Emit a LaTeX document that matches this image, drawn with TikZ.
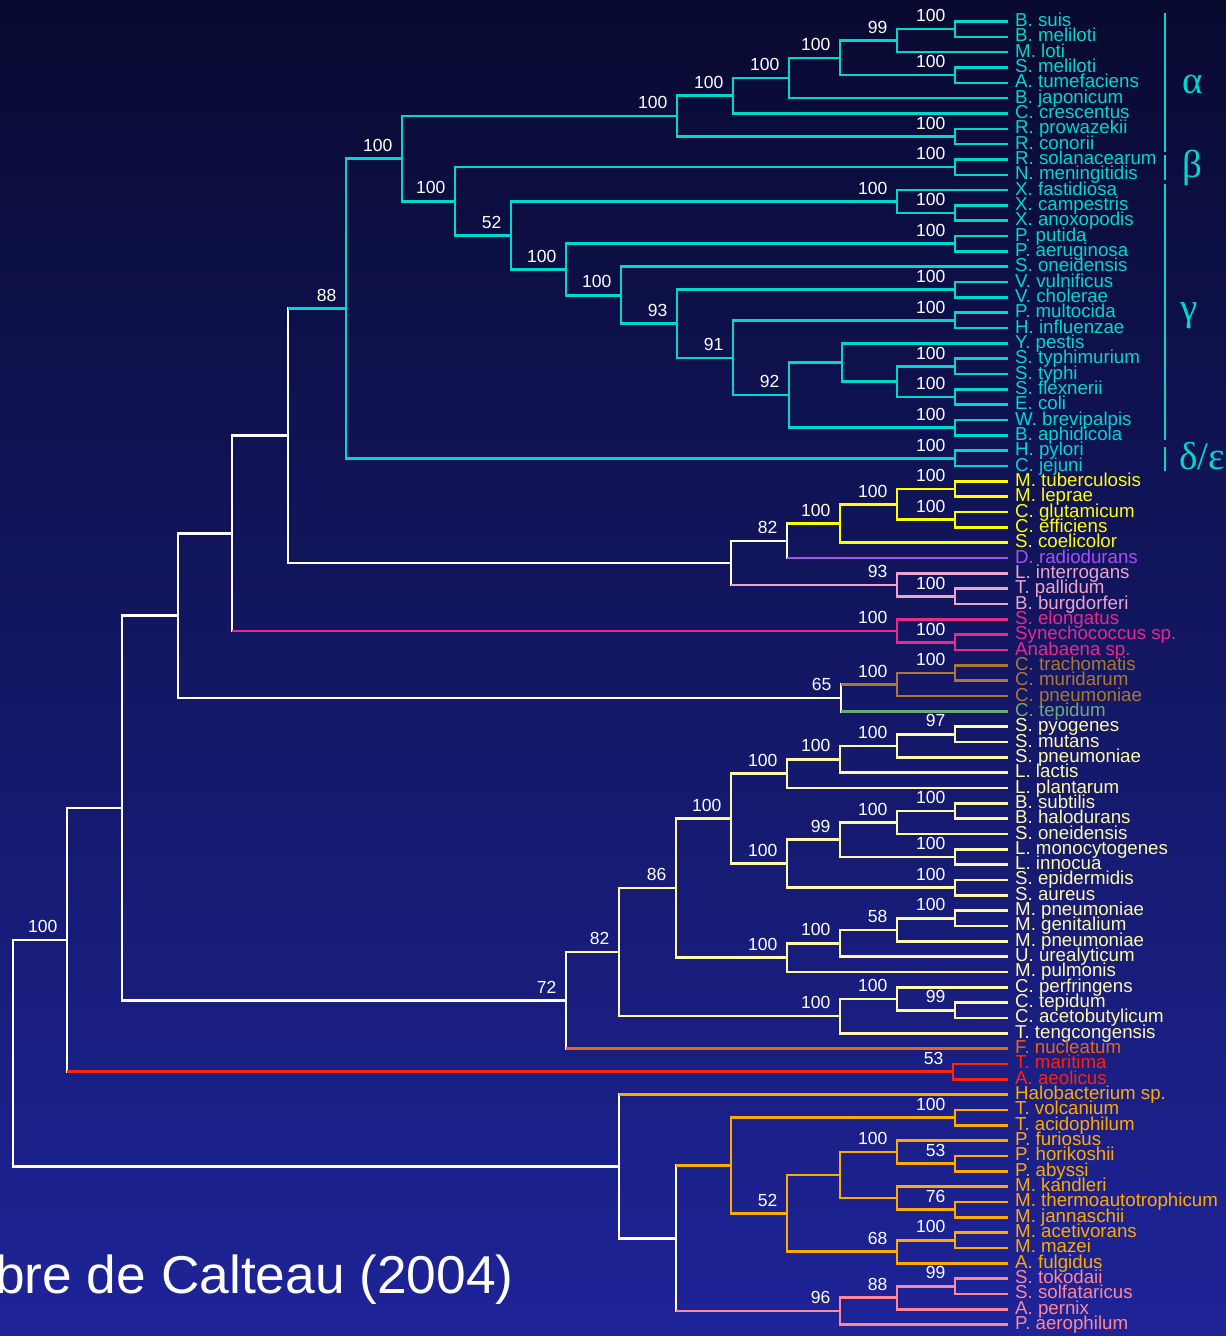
\documentclass[tikz,border=0pt]{standalone}
\usepackage{fontspec}
\setmainfont{Liberation Sans}
\newfontfamily\greekfont{Liberation Serif}
\usepackage{tikz}
\usetikzlibrary{calc}
\usepackage{xcolor}
\definecolor{bgtop}{RGB}{8,10,48}
\definecolor{bgbot}{RGB}{30,36,152}
\definecolor{cyn}{RGB}{0,215,205}
\definecolor{act}{RGB}{255,255,0}
\definecolor{deino}{RGB}{170,80,240}
\definecolor{spiro}{RGB}{235,165,205}
\definecolor{cyano}{RGB}{235,40,140}
\definecolor{chlam}{RGB}{170,120,50}
\definecolor{chlor}{RGB}{110,170,120}
\definecolor{firm}{RGB}{255,250,170}
\definecolor{fuso}{RGB}{235,100,20}
\definecolor{aquif}{RGB}{255,35,10}
\definecolor{eury}{RGB}{255,170,0}
\definecolor{cren}{RGB}{255,135,150}

\tikzset{
  leaf/.style={anchor=west,inner xsep=7pt,inner ysep=0pt,text height=12pt,text depth=2pt,
    font=\fontsize{18.7}{18.7}\selectfont},
  boot/.style={anchor=south east,inner sep=0pt,text=white,font=\fontsize{17.5}{17.5}\selectfont},
  br/.style={line width=2.6pt,white},
  bar/.style={cyn,line width=2pt},
  clade/.style={text=cyn,inner sep=0pt,font=\greekfont\fontsize{39}{39}\selectfont}
}
% junction at x=#3, halfway between children #4 and #5
\newcommand\junc[5][cyn]{%
  \coordinate (tmp) at ($(#4)!.5!(#5)$);
  \coordinate (#2) at (tmp -| #3,0);
  \draw[br,#1] (#4) -| (#2) |- (#5);}
% bootstrap value above the branch entering a junction
\newcommand\bval[2]{\node[boot] (b#1) at ([xshift=-9.5pt,yshift=7pt]#1) {#2};}

\begin{document}
\begin{tikzpicture}[x=1pt,y=-1pt]
    \useasboundingbox (0,0) rectangle (1226,1336);
    \shade[top color=bgtop,bottom color=bgbot] (0,0) rectangle (1226,1336);

    % Leaves
    \foreach \n [count=\i from 1] in {B. suis, B. meliloti, M. loti, S. meliloti, A. tumefaciens,
        B. japonicum, C. crescentus, R. prowazekii, R. conorii, R. solanacearum, N. meningitidis,
        X. fastidiosa, X. campestris, X. anoxopodis, P. putida, P. aeruginosa, S. oneidensis,
        V. vulnificus, V. cholerae, P. multocida, H. influenzae, Y. pestis, S. typhimurium,
        S. typhi, S. flexnerii, E. coli, W. brevipalpis, B. aphidicola, H. pylori, C. jejuni}
      \node[leaf,text=cyn] (l\i) at (1008,{21.5+(\i-1)*15.33}) {\n};
    \foreach \n [count=\i from 31] in {M. tuberculosis, M. leprae, C. glutamicum, C. efficiens, S. coelicolor}
      \node[leaf,text=act] (l\i) at (1008,{21.5+(\i-1)*15.33}) {\n};
    \node[leaf,text=deino] (l36) at (1008,{21.5+35*15.33}) {D. radiodurans};
    \foreach \n [count=\i from 37] in {L. interrogans, T. pallidum, B. burgdorferi}
      \node[leaf,text=spiro] (l\i) at (1008,{21.5+(\i-1)*15.33}) {\n};
    \foreach \n [count=\i from 40] in {S. elongatus, Synechococcus sp., Anabaena sp.}
      \node[leaf,text=cyano] (l\i) at (1008,{21.5+(\i-1)*15.33}) {\n};
    \foreach \n [count=\i from 43] in {C. trachomatis, C. muridarum, C. pneumoniae}
      \node[leaf,text=chlam] (l\i) at (1008,{21.5+(\i-1)*15.33}) {\n};
    \node[leaf,text=chlor] (l46) at (1008,{21.5+45*15.33}) {C. tepidum};
    \foreach \n [count=\i from 47] in {S. pyogenes, S. mutans, S. pneumoniae, L. lactis, L. plantarum,
        B. subtilis, B. halodurans, S. oneidensis, L. monocytogenes, L. innocua, S. epidermidis,
        S. aureus, M. pneumoniae, M. genitalium, M. pneumoniae, U. urealyticum, M. pulmonis,
        C. perfringens, C. tepidum, C. acetobutylicum, T. tengcongensis}
      \node[leaf,text=firm] (l\i) at (1008,{21.5+(\i-1)*15.33}) {\n};
    \node[leaf,text=fuso] (l68) at (1008,{21.5+67*15.33}) {F. nucleatum};
    \node[leaf,text=aquif] (l69) at (1008,{21.5+68*15.33}) {T. maritima};
    \node[leaf,text=aquif] (l70) at (1008,{21.5+69*15.33}) {A. aeolicus};
    \foreach \n [count=\i from 71] in {Halobacterium sp., T. volcanium, T. acidophilum, P. furiosus,
        P. horikoshii, P. abyssi, M. kandleri, M. thermoautotrophicum, M. jannaschii,
        M. acetivorans, M. mazei, A. fulgidus}
      \node[leaf,text=eury] (l\i) at (1008,{21.5+(\i-1)*15.33}) {\n};
    \foreach \n [count=\i from 83] in {S. tokodaii, S. solfataricus, A. pernix, P. aerophilum}
      \node[leaf,text=cren] (l\i) at (1008,{21.5+(\i-1)*15.33}) {\n};

    % Proteobacteria
    \junc{A1}{955}{l1.west}{l2.west}
    \junc{A2}{897}{A1}{l3.west}
    \junc{A3}{955}{l4.west}{l5.west}
    \junc{A4}{840}{A2}{A3}
    \junc{A5}{789}{A4}{l6.west}
    \junc{A6}{733}{A5}{l7.west}
    \junc{A7}{955}{l8.west}{l9.west}
    \junc{A8}{677}{A6}{A7}
    \junc{B1}{955}{l10.west}{l11.west}
    \junc{G1}{955}{l13.west}{l14.west}
    \junc{G2}{897}{l12.west}{G1}
    \junc{G3}{955}{l15.west}{l16.west}
    \junc{G4}{955}{l18.west}{l19.west}
    \junc{G5}{955}{l20.west}{l21.west}
    \junc{G6}{955}{l23.west}{l24.west}
    \junc{G7}{955}{l25.west}{l26.west}
    \junc{G8}{897}{G6}{G7}
    \junc{G9}{842}{l22.west}{G8}
    \junc{G10}{955}{l27.west}{l28.west}
    \junc{G11}{789}{G9}{G10}
    \junc{G12}{733}{G5}{G11}
    \junc{G13}{677}{G4}{G12}
    \junc{G14}{621}{l17.west}{G13}
    \junc{G15}{566}{G3}{G14}
    \junc{G16}{511}{G2}{G15}
    \junc{BG}{455}{B1}{G16}
    \junc{ABG}{402}{A8}{BG}
    \junc{DE}{955}{l29.west}{l30.west}
    \junc{PR}{346}{ABG}{DE}

    % Actinobacteria, Deinococcus, Spirochetes, Cyanobacteria, Chlamydiae
    \junc[act]{AC1}{955}{l31.west}{l32.west}
    \junc[act]{AC2}{955}{l33.west}{l34.west}
    \junc[act]{AC3}{897}{AC1}{AC2}
    \junc[act]{AC4}{840}{AC3}{l35.west}
    \junc[white]{AD}{787}{AC4}{l36.west}
    \draw[br,act] (AD |- AC4) -- (AC4);
    \draw[br,deino] (AD |- l36.west) -- (l36.west);
    \junc[spiro]{SP1}{955}{l38.west}{l39.west}
    \junc[spiro]{SP2}{897}{l37.west}{SP1}
    \junc[white]{ADS}{731}{AD}{SP2}
    \draw[br,spiro] (ADS |- SP2) -- (SP2);
    \junc[white]{X1}{288}{PR}{ADS}
    \draw[br,cyn] (X1 |- PR) -- (PR);
    \junc[cyano]{CY1}{955}{l41.west}{l42.west}
    \junc[cyano]{CY2}{897}{l40.west}{CY1}
    \junc[white]{X2}{232}{X1}{CY2}
    \draw[br,cyano] (X2 |- CY2) -- (CY2);
    \junc[chlam]{CH1}{955}{l43.west}{l44.west}
    \junc[chlam]{CH2}{897}{CH1}{l45.west}
    \junc[white]{CHL}{841}{CH2}{l46.west}
    \draw[br,chlam] (CHL |- CH2) -- (CH2);
    \draw[br,chlor] (CHL |- l46.west) -- (l46.west);
    \junc[white]{X3}{178}{X2}{CHL}

    % Firmicutes
    \junc[firm]{F1}{955}{l47.west}{l48.west}
    \junc[firm]{F2}{897}{F1}{l49.west}
    \junc[firm]{F3}{840}{F2}{l50.west}
    \junc[firm]{F4}{787}{F3}{l51.west}
    \junc[firm]{F5}{955}{l52.west}{l53.west}
    \junc[firm]{F6}{897}{F5}{l54.west}
    \junc[firm]{F7}{955}{l55.west}{l56.west}
    \junc[firm]{F8}{840}{F6}{F7}
    \junc[firm]{F9}{955}{l57.west}{l58.west}
    \junc[firm]{F10}{787}{F8}{F9}
    \junc[firm]{F11}{731}{F4}{F10}
    \junc[firm]{M1}{955}{l59.west}{l60.west}
    \junc[firm]{M2}{897}{M1}{l61.west}
    \junc[firm]{M3}{840}{M2}{l62.west}
    \junc[firm]{M4}{787}{M3}{l63.west}
    \junc[firm]{F12}{676}{F11}{M4}
    \junc[firm]{C1}{955}{l65.west}{l66.west}
    \junc[firm]{C2}{897}{l64.west}{C1}
    \junc[firm]{C3}{840}{C2}{l67.west}
    \junc[firm]{F13}{619}{F12}{C3}
    \junc[white]{F14}{566}{F13}{l68.west}
    \draw[br,firm] (F14 |- F13) -- (F13);
    \draw[br,fuso] (F14 |- l68.west) -- (l68.west);
    \junc[white]{X4}{122}{X3}{F14}
    \junc[aquif]{TM}{953}{l69.west}{l70.west}
    \junc[white]{X5}{67}{X4}{TM}
    \draw[br,aquif] (X5 |- TM) -- (TM);

    % Archaea
    \junc[eury]{E1}{955}{l72.west}{l73.west}
    \junc[eury]{E2}{955}{l75.west}{l76.west}
    \junc[eury]{E3}{897}{l74.west}{E2}
    \junc[eury]{E4}{955}{l78.west}{l79.west}
    \junc[eury]{E5}{897}{l77.west}{E4}
    \junc[eury]{E6}{840}{E3}{E5}
    \junc[eury]{E7}{955}{l80.west}{l81.west}
    \junc[eury]{E8}{897}{E7}{l82.west}
    \junc[eury]{E9}{787}{E6}{E8}
    \junc[eury]{E10}{731}{E1}{E9}
    \junc[cren]{CR1}{955}{l83.west}{l84.west}
    \junc[cren]{CR2}{897}{CR1}{l85.west}
    \junc[cren]{CR3}{840}{CR2}{l86.west}
    \junc[white]{AR1}{676}{E10}{CR3}
    \draw[br,eury] (AR1 |- E10) -- (E10);
    \draw[br,cren] (AR1 |- CR3) -- (CR3);
    \junc[white]{AR2}{619}{l71.west}{AR1}
    \draw[br,eury] (AR2 |- l71.west) -- (l71.west);

    % Root
    \junc[white]{RT}{13}{X5}{AR2}

    % Bootstrap values
    \bval{A1}{100} \bval{A2}{99} \bval{A3}{100} \bval{A4}{100} \bval{A5}{100}
    \bval{A6}{100} \bval{A7}{100} \bval{A8}{100} \bval{B1}{100}
    \bval{G1}{100} \bval{G2}{100} \bval{G3}{100} \bval{G4}{100} \bval{G5}{100}
    \bval{G6}{100} \bval{G7}{100} \bval{G10}{100} \bval{G11}{92} \bval{G12}{91}
    \bval{G13}{93} \bval{G14}{100} \bval{G15}{100} \bval{G16}{52}
    \bval{BG}{100} \bval{ABG}{100} \bval{PR}{88} \bval{DE}{100}
    \bval{AC1}{100} \bval{AC2}{100} \bval{AC3}{100} \bval{AC4}{100} \bval{AD}{82}
    \bval{SP1}{100} \bval{SP2}{93} \bval{CY1}{100} \bval{CY2}{100}
    \bval{CH1}{100} \bval{CH2}{100} \bval{CHL}{65}
    \bval{F1}{97} \bval{F2}{100} \bval{F3}{100} \bval{F4}{100} \bval{F5}{100}
    \bval{F6}{100} \bval{F7}{100} \bval{F8}{99} \bval{F9}{100} \bval{F10}{100}
    \bval{F11}{100} \bval{M1}{100} \bval{M2}{58} \bval{M3}{100} \bval{M4}{100}
    \bval{F12}{86} \bval{C1}{99} \bval{C2}{100} \bval{C3}{100} \bval{F13}{82}
    \bval{F14}{72} \bval{TM}{53} \bval{X5}{100}
    \bval{E1}{100} \bval{E2}{53} \bval{E3}{100} \bval{E4}{76} \bval{E7}{100}
    \bval{E8}{68} \bval{E9}{52} \bval{CR1}{99} \bval{CR2}{88} \bval{CR3}{96}

    % Group bars
    \draw[bar] (1165,13) -- (1165,152);
    \draw[bar] (1165,155) -- (1165,180);
    \draw[bar] (1165,184) -- (1165,440);
    \draw[bar] (1165,447) -- (1165,471);
    \node[clade] (alpha) at (1193,84) {α};
    \node[clade] (beta) at (1192,168) {β};
    \node[clade] (gamma) at (1189,316) {γ};
    \node[clade] (delta) at (1202,456) {δ/ε};

    % Title
    \node[anchor=base west,inner sep=0pt,text=white,font=\fontsize{53.3}{53.3}\selectfont]
      (title) at (-5,1293) {bre de Calteau (2004)};
\end{tikzpicture}
\end{document}
